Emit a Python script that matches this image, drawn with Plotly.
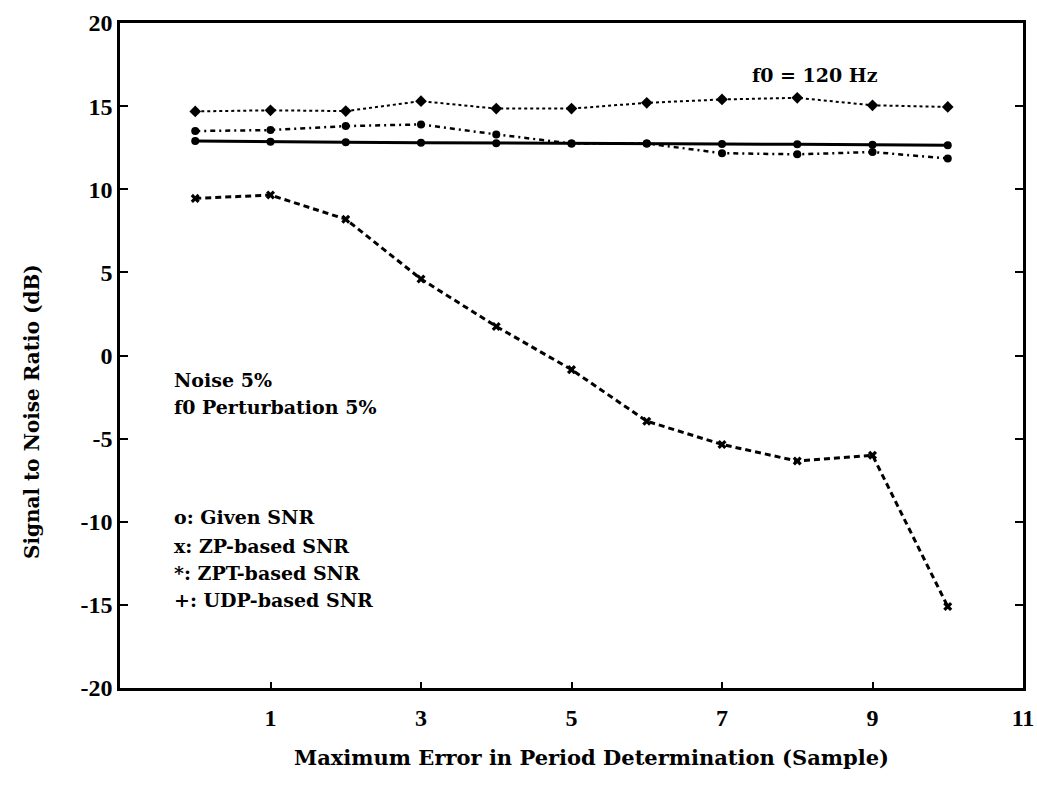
import plotly.graph_objects as go

x_vals = [0, 1, 2, 3, 4, 5, 6, 7, 8, 9, 10]
given_snr = [12.9, 12.85, 12.83, 12.8, 12.77, 12.75, 12.75, 12.72, 12.7, 12.68, 12.65]
zp_snr = [9.45, 9.65, 8.2, 4.6, 1.75, -0.85, -3.95, -5.35, -6.35, -6.0, -15.1]
zpt_snr = [13.5, 13.56, 13.8, 13.9, 13.3, 12.75, 12.75, 12.17, 12.1, 12.24, 11.85]
udp_snr = [14.68, 14.75, 14.7, 15.3, 14.85, 14.85, 15.2, 15.4, 15.5, 15.05, 14.95]

x_ticks = [1, 3, 5, 7, 9, 11]
y_ticks = [-20, -15, -10, -5, 0, 5, 10, 15, 20]

FONT = "DejaVu Serif"
TICKFONT = "Liberation Serif"
fig = go.Figure()

fig.add_trace(go.Scatter(x=x_vals, y=udp_snr, mode="lines+markers", name="UDP-based SNR",
                         line=dict(color="black", width=2, dash="dot"),
                         marker=dict(symbol="diamond", size=9, color="black")))
fig.add_trace(go.Scatter(x=x_vals, y=zpt_snr, mode="lines+markers", name="ZPT-based SNR",
                         line=dict(color="black", width=2.5, dash="5px,4px,2px,4px"),
                         marker=dict(symbol="circle", size=8, color="black")))
fig.add_trace(go.Scatter(x=x_vals, y=given_snr, mode="lines+markers", name="Given SNR",
                         line=dict(color="black", width=3),
                         marker=dict(symbol="circle", size=8, color="black")))
fig.add_trace(go.Scatter(x=x_vals, y=zp_snr, mode="lines+markers", name="ZP-based SNR",
                         line=dict(color="black", width=3, dash="6px,4px"),
                         marker=dict(symbol="x", size=8, color="black")))

fig.update_layout(
    width=1037, height=789,
    margin=dict(l=120, r=14, t=23, b=101),
    paper_bgcolor="white", plot_bgcolor="white",
    showlegend=False,
    font=dict(family=FONT, color="black", size=20),
)
fig.update_xaxes(range=[-1, 11], tickvals=x_ticks, ticktext=[str(v) for v in x_ticks],
                 ticks="inside", ticklen=6, tickwidth=2, tickcolor="black",
                 showline=True, linewidth=2.5, linecolor="black", mirror=True,
                 showgrid=False, zeroline=False, automargin=False,
                 tickfont=dict(family=TICKFONT, size=24, weight="bold"),
                 ticklabelstandoff=6)
fig.update_yaxes(range=[-20, 20], tickvals=y_ticks, ticktext=[str(v) for v in y_ticks],
                 ticks="inside", ticklen=8, tickwidth=2, tickcolor="black",
                 showline=True, linewidth=2.5, linecolor="black", mirror="ticks",
                 showgrid=False, zeroline=False, automargin=False,
                 tickfont=dict(family=TICKFONT, size=24, weight="bold"))

def px2paper(px, py):
    return (px - 120) / 903, (688 - py) / 665

anns = [
    ("f0 = 120 Hz", 750, 75, 19),
    ("Noise 5%", 172, 380, 19),
    ("f0 Perturbation 5%", 172, 407, 19),
    ("o: Given SNR", 172, 517, 19),
    ("x: ZP-based SNR", 172, 546, 19),
    ("*: ZPT-based SNR", 172, 573, 19),
    ("+: UDP-based SNR", 172, 600, 19),
]
for text, px, py, sz in anns:
    xp, yp = px2paper(px, py)
    fig.add_annotation(text=text, x=xp, y=yp, xref="paper", yref="paper",
                       xanchor="left", yanchor="middle", showarrow=False,
                       font=dict(family=FONT, size=sz, color="black", weight="bold"))

xp, yp = px2paper(591, 757)
fig.add_annotation(text="Maximum Error in Period Determination (Sample)", x=xp, y=yp,
                   xref="paper", yref="paper", xanchor="center", yanchor="middle",
                   showarrow=False, font=dict(family=FONT, size=21, color="black", weight="bold"))
xp, yp = px2paper(32, 412)
fig.add_annotation(text="Signal to Noise Ratio (dB)", x=xp, y=yp, textangle=-90,
                   xref="paper", yref="paper", xanchor="center", yanchor="middle",
                   showarrow=False, font=dict(family=FONT, size=20, color="black", weight="bold"))

fig.write_html("out.html")
